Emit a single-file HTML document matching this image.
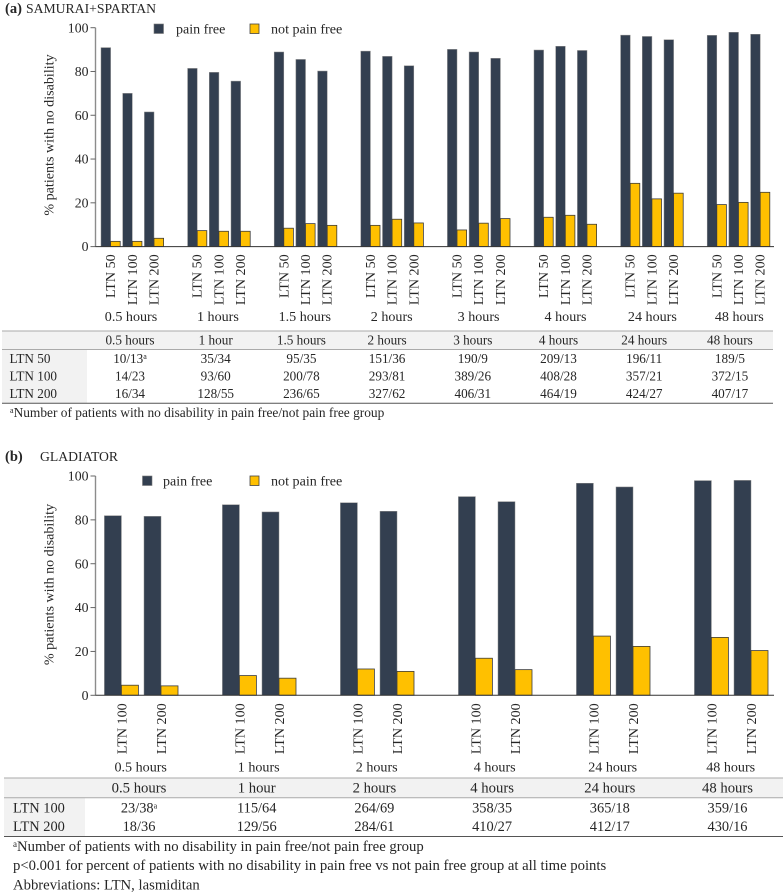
<!DOCTYPE html>
<html lang="en">
<head>
<meta charset="utf-8">
<title>Patients with no disability: pain free vs not pain free</title>
<style>
html,body{margin:0;padding:0;background:#fff;width:784px;height:893px;overflow:hidden}
svg{display:block;font-family:"Liberation Serif",serif;fill:#262626}
text{fill:#262626}
</style>
</head>
<body>
<svg id="fig" xmlns="http://www.w3.org/2000/svg" width="784" height="893" viewBox="0 0 784 893">
  <text x="5" y="13" font-size="14.5" font-weight="bold">(a)</text>
  <text x="26" y="13" font-size="13.7">SAMURAI+SPARTAN</text>
  <text x="5" y="461" font-size="14.5" font-weight="bold">(b)</text>
  <text x="40" y="461" font-size="13.7">GLADIATOR</text>

  <rect x="154" y="24" width="9.5" height="9.5" fill="#333f50" stroke="#777" stroke-width="0.6"/>
  <text x="176" y="33.5" font-size="14">pain free</text>
  <rect x="250" y="24" width="9" height="9.5" fill="#ffc000" stroke="#444" stroke-width="0.8"/>
  <text x="271" y="33.5" font-size="14.1">not pain free</text>

  <rect x="142.5" y="476" width="9.5" height="9.5" fill="#333f50" stroke="#777" stroke-width="0.6"/>
  <text x="163" y="485.5" font-size="14">pain free</text>
  <rect x="250" y="476" width="9" height="9.5" fill="#ffc000" stroke="#444" stroke-width="0.8"/>
  <text x="271" y="485.5" font-size="14.1">not pain free</text>

  <text transform="translate(53.5,135) rotate(-90)" text-anchor="middle" font-size="14.1">% patients with no disability</text>
  <text transform="translate(53.5,584.5) rotate(-90)" text-anchor="middle" font-size="14.1">% patients with no disability</text>

  <rect x="2" y="331" width="771" height="18.5" fill="#f2f2f2"/>
  <rect x="2" y="349.5" width="85" height="53.5" fill="#f2f2f2"/>
  <line x1="2" x2="773" y1="331" y2="331" stroke="#aaa" stroke-width="1"/>
  <line x1="2" x2="773" y1="349.5" y2="349.5" stroke="#aaa" stroke-width="1"/>
  <line x1="2" x2="773" y1="403.3" y2="403.3" stroke="#555" stroke-width="1"/>
  <text x="10" y="417" font-size="13.4"><tspan font-size="8" dy="-4">a</tspan><tspan dy="4">Number of patients with no disability in pain free/not pain free group</tspan></text>

  <rect x="4" y="778" width="779" height="19.7" fill="#f2f2f2"/>
  <rect x="4" y="797.7" width="81" height="38.6" fill="#f2f2f2"/>
  <line x1="4" x2="783" y1="778" y2="778" stroke="#aaa" stroke-width="1"/>
  <line x1="4" x2="783" y1="797.7" y2="797.7" stroke="#aaa" stroke-width="1"/>
  <line x1="4" x2="783" y1="836.5" y2="836.5" stroke="#555" stroke-width="1"/>
  <text x="13" y="851" font-size="14.7"><tspan font-size="9" dy="-4">a</tspan><tspan dy="4">Number of patients with no disability in pain free/not pain free group</tspan></text>
  <text x="13" y="870" font-size="14.7">p&lt;0.001 for percent of patients with no disability in pain free vs not pain free group at all time points</text>
  <text x="13" y="889.5" font-size="14.7">Abbreviations: LTN, lasmiditan</text>
</svg>
<script>
// Panel (a) data
const aDoses = ["LTN 50", "LTN 100", "LTN 200"];
const aTimes = ["0.5 hours", "1 hours", "1.5 hours", "2 hours", "3 hours", "4 hours", "24 hours", "48 hours"];
const aPainFree = [
  [90.9, 70, 61.5], [81.4, 79.6, 75.6], [88.9, 85.5, 80.2], [89.3, 86.9, 82.6],
  [90.1, 88.9, 86], [89.8, 91.5, 89.6], [96.6, 96, 94.5], [96.5, 97.9, 97]
];
const aNotPainFree = [
  [2.4, 2.4, 3.8], [7.3, 7, 7], [8.4, 10.5, 9.7], [9.7, 12.5, 10.8],
  [7.6, 10.7, 12.8], [13.4, 14.3, 10.2], [28.9, 21.8, 24.4], [19.2, 20.2, 24.8]
];
const aTableHeader = ["0.5 hours", "1 hour", "1.5 hours", "2 hours", "3 hours", "4 hours", "24 hours", "48 hours"];
const aTableRows = [
  ["10/13", "35/34", "95/35", "151/36", "190/9", "209/13", "196/11", "189/5"],
  ["14/23", "93/60", "200/78", "293/81", "389/26", "408/28", "357/21", "372/15"],
  ["16/34", "128/55", "236/65", "327/62", "406/31", "464/19", "424/27", "407/17"]
];

// Panel (b) data
const bDoses = ["LTN 100", "LTN 200"];
const bTimes = ["0.5 hours", "1 hours", "2 hours", "4 hours", "24 hours", "48 hours"];
const bPainFree = [
  [81.9, 81.6], [86.9, 83.6], [87.8, 83.9], [90.6, 88.3], [96.7, 95], [97.9, 98]
];
const bNotPainFree = [
  [4.6, 4.3], [9, 7.8], [12, 10.9], [16.9, 11.7], [27, 22.3], [26.4, 20.4]
];
const bTableHeader = ["0.5 hours", "1 hour", "2 hours", "4 hours", "24 hours", "48 hours"];
const bTableRows = [
  ["23/38", "115/64", "264/69", "358/35", "365/18", "359/16"],
  ["18/36", "129/56", "284/61", "410/27", "412/17", "430/16"]
];
const yTicks = [0, 20, 40, 60, 80, 100];

const svg = document.getElementById('fig');
function make(tag, attrs, txt) {
  const el = document.createElementNS('http://www.w3.org/2000/svg', tag);
  for (const k in attrs) el.setAttribute(k, attrs[k]);
  if (txt !== undefined) el.textContent = txt;
  svg.appendChild(el);
  return el;
}

function drawChart(cfg) {
  const y = v => cfg.y0 - (v / 100) * (cfg.y0 - cfg.y100);
  const groupX = g => cfg.x0 + g * cfg.groupStep;
  const doseX = (g, d) => groupX(g) + d * cfg.doseStep;

  cfg.painFree.forEach((group, g) => {
    group.forEach((val, d) => {
      const x = doseX(g, d);
      const dark = make('rect', {x: x, y: y(val), width: cfg.barW, height: cfg.y0 - y(val), fill: '#333f50', stroke: '#8a8a8a', 'stroke-width': 0.5});
      
      
      const nv = cfg.notPainFree[g][d];
      const yel = make('rect', {x: x + cfg.barW, y: y(nv), width: cfg.barW, height: cfg.y0 - y(nv), fill: '#ffc000', stroke: '#3c3c3c', 'stroke-width': 0.8});
      
      
      const lx = x + cfg.barW + cfg.labelDx;
      const lab = make('text', {transform: 'translate(' + lx + ',' + cfg.labelTop + ') rotate(-90)', 'text-anchor': 'end', 'font-size': 14.1}, cfg.doses[d]);
      
      
    });
  });

  const yAxis = make('line', {x1: cfg.axisX, x2: cfg.axisX, y1: cfg.y100, y2: cfg.y0, stroke: '#8c8c8c', 'stroke-width': 1.4});
  
  
  const xAxis = make('line', {x1: cfg.axisX, x2: 774, y1: cfg.y0, y2: cfg.y0, stroke: '#333', 'stroke-width': 1});
  
  

  yTicks.forEach(t => {
    const tick = make('line', {x1: cfg.axisX - 5, x2: cfg.axisX, y1: y(t), y2: y(t), stroke: '#666', 'stroke-width': 1});
    
    
    const tl = make('text', {x: cfg.axisX - 7, y: y(t) + 4.6, 'text-anchor': 'end', 'font-size': 13.8}, t);
    
    
  });

  cfg.times.forEach((t, g) => {
    const tl = make('text', {x: cfg.timeX0 + g * cfg.timeStep, y: cfg.timeY, 'text-anchor': 'middle', 'font-size': 14.1}, t);
    
    
  });

  cfg.header.forEach((t, c) => {
    const h = make('text', {x: cfg.colX0 + c * cfg.colStep, y: cfg.headerY, 'text-anchor': 'middle', 'font-size': cfg.headerFont}, t);
    
    
  });

  cfg.rows.forEach((row, r) => {
    const rl = make('text', {x: cfg.rowLabelX, y: cfg.rowY[r], 'font-size': cfg.tableFont}, cfg.doses[r]);
    
    
    row.forEach((val, c) => {
      const cell = make('text', {x: cfg.colX0 + c * cfg.colStep, y: cfg.rowY[r], 'text-anchor': 'middle', 'font-size': cfg.tableFont}, val);
      
      
      if (r === 0 && c === 0) {
        const sup = document.createElementNS('http://www.w3.org/2000/svg', 'tspan');
        sup.setAttribute('font-size', '8');
        sup.setAttribute('dy', '-4');
        sup.textContent = 'a';
        cell.appendChild(sup);
      }
    });
  });
}

drawChart({
  painFree: aPainFree, notPainFree: aNotPainFree, doses: aDoses, times: aTimes,
  header: aTableHeader, rows: aTableRows,
  y0: 246.6, y100: 27.7, axisX: 95.5, x0: 101, groupStep: 86.6, doseStep: 21.7, barW: 9.6,
  labelDx: 4.5, labelTop: 254.3, timeX0: 131, timeStep: 86.9, timeY: 321,
  colX0: 130, colStep: 85.7, headerY: 344.5, rowLabelX: 9.5, rowY: [363, 380.5, 398], tableFont: 13.2, headerFont: 13.2
});
drawChart({
  painFree: bPainFree, notPainFree: bNotPainFree, doses: bDoses, times: bTimes,
  header: bTableHeader, rows: bTableRows,
  y0: 695.3, y100: 476, axisX: 95.5, x0: 104.4, groupStep: 118, doseStep: 39.6, barW: 17,
  labelDx: 5.2, labelTop: 703.3, timeX0: 140.7, timeStep: 118, timeY: 771.5,
  colX0: 139, colStep: 117.7, headerY: 792.5, rowLabelX: 13, rowY: [812.3, 831], tableFont: 14.4, headerFont: 14.7
});
</script>
</body>
</html>
